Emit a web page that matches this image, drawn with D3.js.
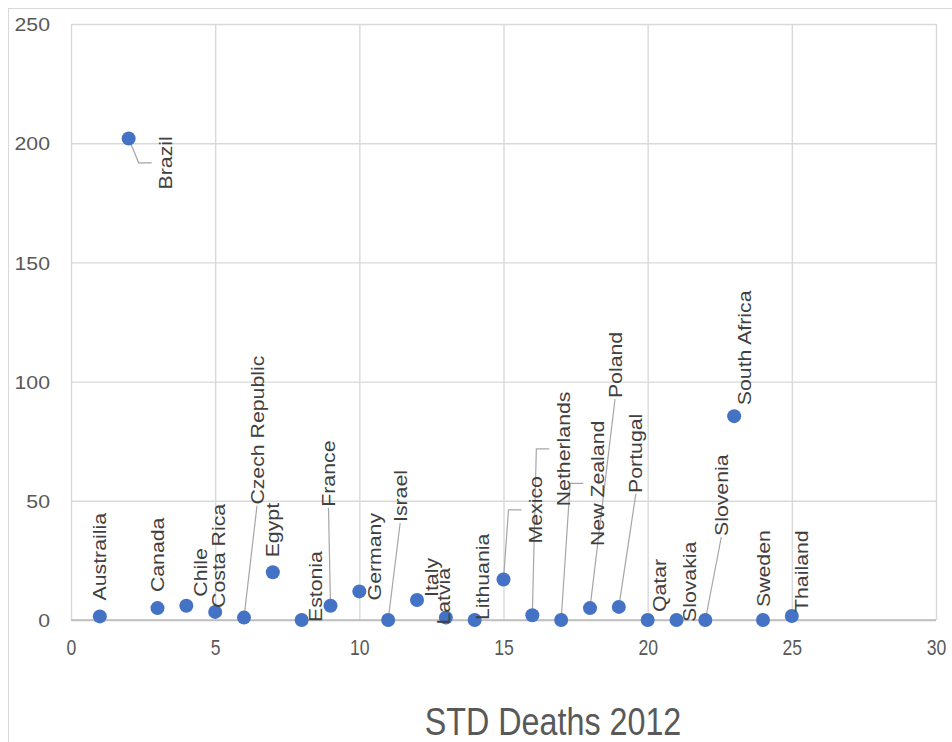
<!DOCTYPE html>
<html>
<head>
<meta charset="utf-8">
<script src="https://cdn.jsdelivr.net/npm/d3@7"></script>
<style>
  html, body { margin: 0; padding: 0; background: #ffffff; }
  svg { display: block; }
</style>
</head>
<body>
<script>
// ---------------- data ----------------
const countries = ["Austrailia","Brazil","Canada","Chile","Costa Rica","Czech Republic","Egypt","Estonia","France","Germany","Israel","Italy","Latvia","Lithuania","Mexico","Netherlands","New Zealand","Poland","Portugal","Qatar","Slovakia","Slovenia","South Africa","Sweden","Thailand"];
const xValues = [1,2,3,4,5,6,7,8,9,10,11,12,13,14,15,16,17,18,19,20,21,22,23,24,25];
const deaths = [1.5,202,5,6,3.4,1,20,0,6,12,0,8.4,1,0,17,2,0,5,5.5,0,0,0,85.5,0,1.7];
const xTicks = [0,5,10,15,20,25,30];
const yTicks = [0,50,100,150,200,250];
const chartTitle = "STD Deaths 2012";

// label layout: offset (px) of the label's bottom-centre from its point, and leader style
const labelLayout = [
  [0,-16,""],[37,51,"elbow"],[0,-16,""],[14,-9,""],[3,-4,""],[13,-113,"line"],
  [0,-15,""],[14,2,""],[-2,-99,"line"],[15,9,""],[12,-98,"line"],[14,-3,""],
  [-2,7,""],[8,0,""],[32,-36,"elbow"],[31,-109,"elbow"],[36,-74,"elbow"],
  [25,-210,"line"],[17,-114,"line"],[12,-8,""],[13,2,""],[16,-84,"line"],
  [10,-11,""],[0,-13,""],[10,-4,""]
];

// ---------------- layout ----------------
const W = 952, H = 742;
const L = 71, R = 936, T = 24, B = 620;
const x = d3.scaleLinear().domain([0, 30]).range([L, R]);
const y = d3.scaleLinear().domain([0, 250]).range([B, T]);

const svg = d3.select("body").append("svg").attr("width", W).attr("height", H);
svg.append("rect").attr("x", 0).attr("y", 0).attr("width", W).attr("height", H).attr("fill", "#fff");
// chart frame
svg.append("rect").attr("x", 8.5).attr("y", 8.5).attr("width", W + 20).attr("height", H + 20)
  .attr("fill", "none").attr("stroke", "#d9d9d9").attr("stroke-width", 1);

const FONT = "'Liberation Sans', Arial, sans-serif";

// horizontal grid + y labels
const yAxis = svg.append("g").attr("transform", `translate(${L},0)`)
  .call(d3.axisLeft(y).tickValues(yTicks).tickSize(-(R - L)).tickPadding(0).tickFormat(d3.format("d")));
yAxis.select(".domain").remove();
yAxis.selectAll(".tick line").attr("stroke", d => d === 0 ? "#bfbfbf" : "#d9d9d9").attr("stroke-width", 1.4);
yAxis.selectAll(".tick text").attr("fill", "#595959").style("font-family", FONT).style("font-size", "19px")
  .attr("text-anchor", "end").attr("dy", "0.35em").attr("x", null)
  .attr("transform", "translate(-21,0) scale(1.12,1)");

// vertical grid + x labels
const xAxis = svg.append("g").attr("transform", `translate(0,${B})`)
  .call(d3.axisBottom(x).tickValues(xTicks).tickSize(-(B - T)).tickPadding(0).tickFormat(d3.format("d")));
xAxis.select(".domain").remove();
xAxis.selectAll(".tick line").attr("stroke", "#d9d9d9").attr("stroke-width", 1.4);
xAxis.selectAll(".tick text").attr("fill", "#595959").style("font-family", FONT).style("font-size", "22px")
  .attr("y", null).attr("dy", null)
  .attr("transform", "translate(0,35) scale(0.8,1)");
// redraw zero line on top of verticals
svg.append("line").attr("x1", x(0)).attr("x2", x(30)).attr("y1", y(0)).attr("y2", y(0))
  .attr("stroke", "#bfbfbf").attr("stroke-width", 1.4);

// points data
const pts = countries.map((c, i) => ({
  name: c, xv: xValues[i], yv: deaths[i],
  px: x(xValues[i]), py: y(deaths[i]),
  dx: labelLayout[i][0], dy: labelLayout[i][1], leader: labelLayout[i][2]
}));

const leaderG = svg.append("g");
const pointG = svg.append("g");
const labelG = svg.append("g");

pointG.selectAll("circle").data(pts).join("circle")
  .attr("cx", d => d.px).attr("cy", d => d.py).attr("r", 7).attr("fill", "#4472C4");

const SCALE = 1.12;
labelG.selectAll("text").data(pts).join("text")
  .attr("transform", d => `translate(${d.px + d.dx},${d.py + d.dy}) rotate(-90) scale(${SCALE},1)`)
  .attr("text-anchor", "start").attr("dy", "0.35em")
  .attr("fill", "#404040").style("font-family", FONT).style("font-size", "19px")
  .text(d => d.name)
  .each(function(d) { d.len = this.getComputedTextLength() * SCALE; });

pts.forEach(d => {
  const ax = d.px + d.dx, ay = d.py + d.dy;
  if (d.leader === "line") {
    leaderG.append("path")
      .attr("d", d3.line()([[d.px, d.py], [ax, ay + 1]]))
      .attr("fill", "none").attr("stroke", "#a6a6a6").attr("stroke-width", 1.2);
  } else if (d.leader === "elbow") {
    const left = ax - 8, mid = ay - d.len / 2;
    leaderG.append("path")
      .attr("d", d3.line()([[d.px, d.py], [left - 19, mid], [left - 6, mid]]))
      .attr("fill", "none").attr("stroke", "#a6a6a6").attr("stroke-width", 1.2);
  }
});

// title
svg.append("text").attr("transform", `translate(553,735) scale(0.85,1)`)
  .attr("text-anchor", "middle").attr("fill", "#595959")
  .style("font-family", FONT).style("font-size", "38px").text(chartTitle);
</script>
</body>
</html>
